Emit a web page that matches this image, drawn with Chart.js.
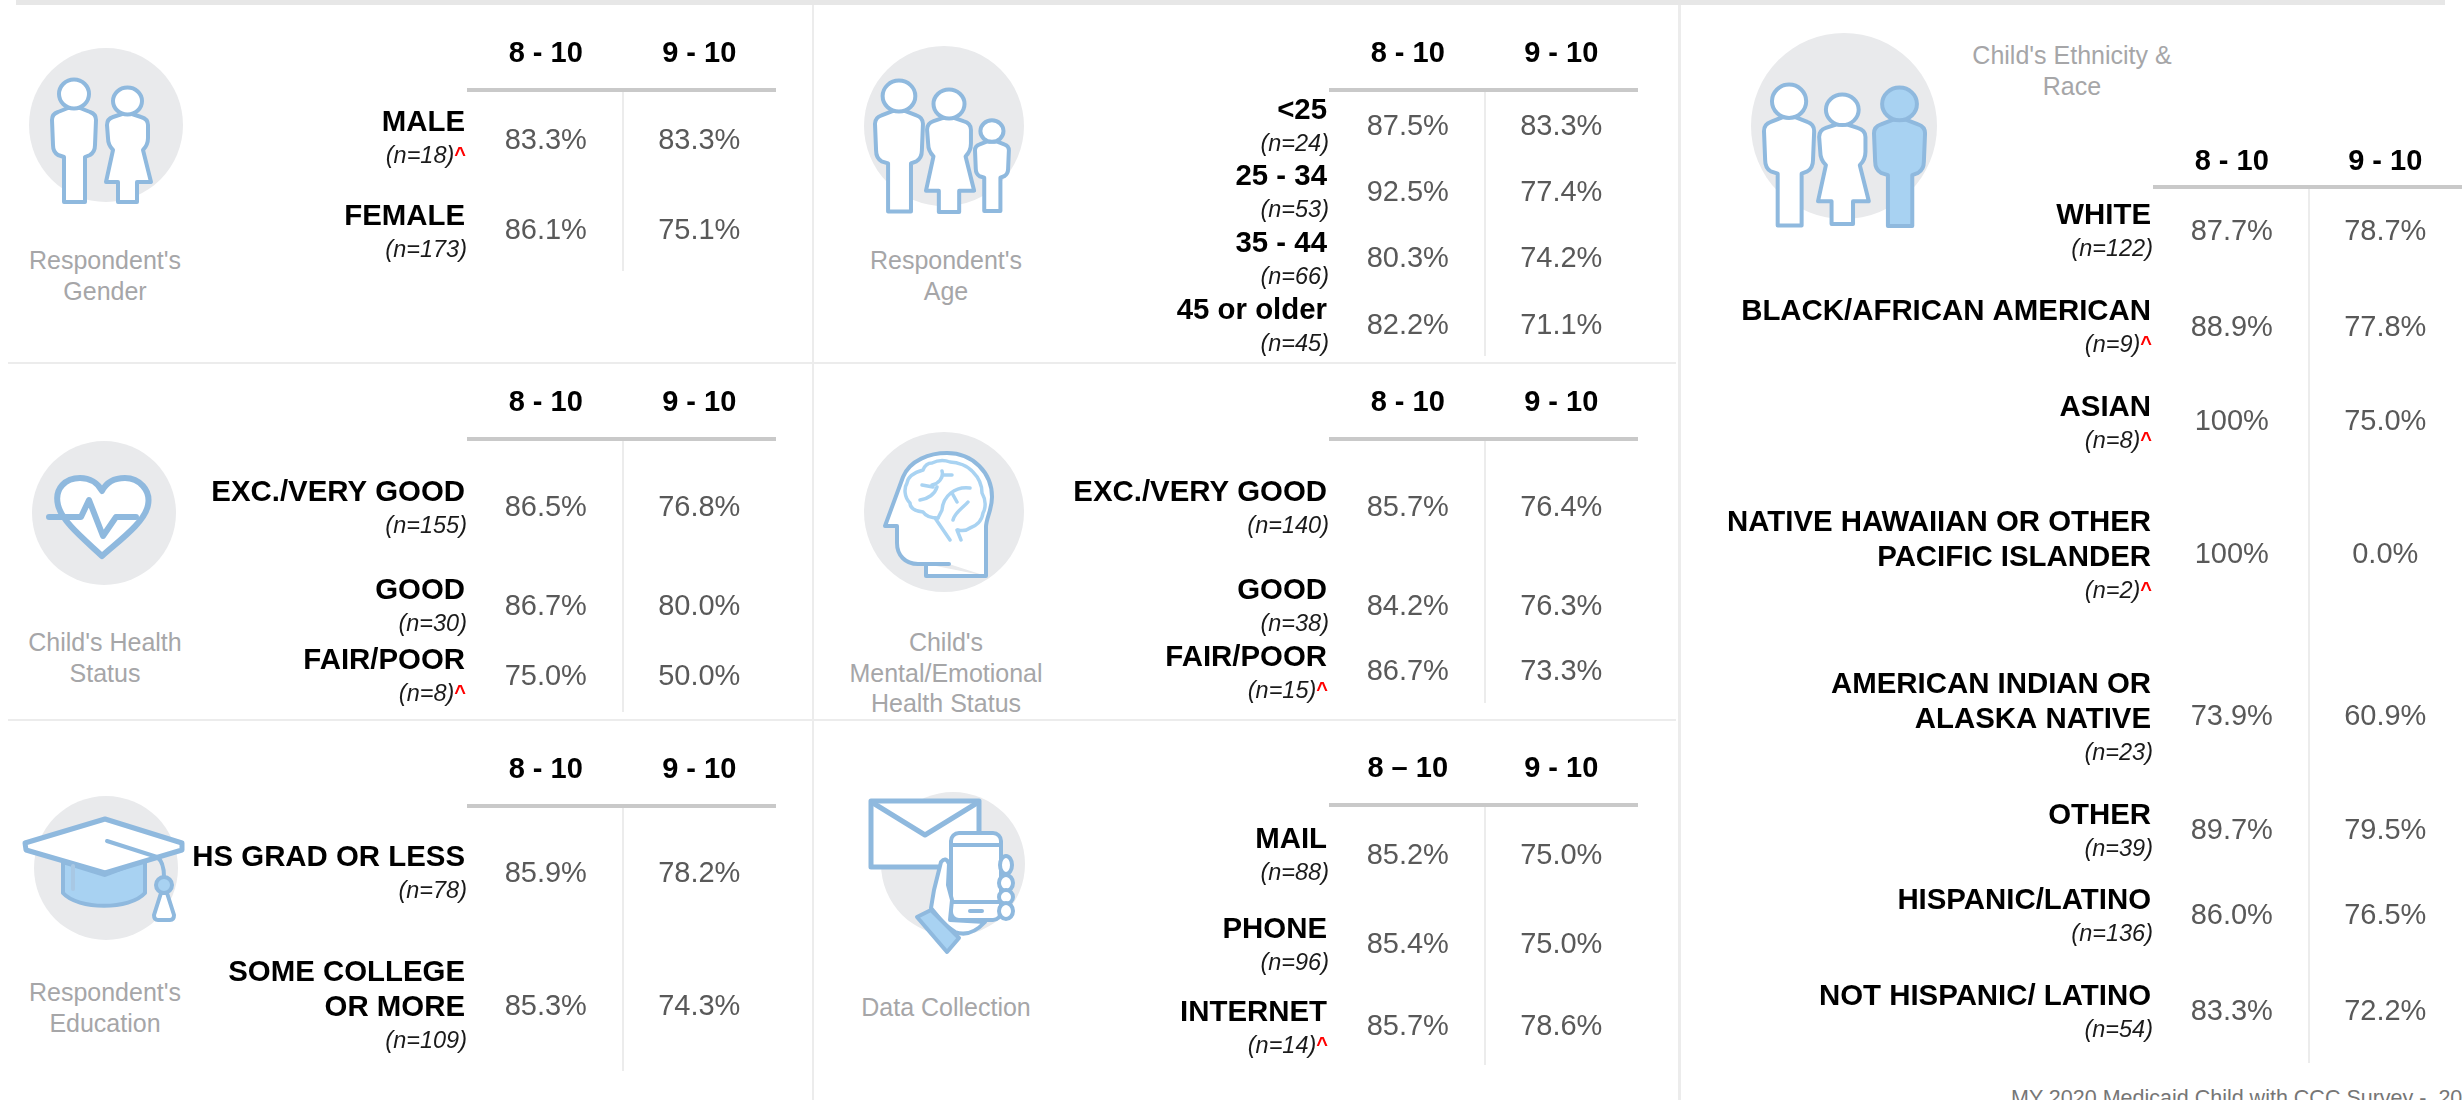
<!DOCTYPE html>
<html lang="en">

<head>
    <meta charset="UTF-8">
    <title>MY 2020 Medicaid Child with CCC Survey</title>
    <script src="https://cdn.jsdelivr.net/npm/chart.js"></script>
    <style>
        html, body { margin: 0; padding: 0; background: #fff; }
        #page { position: relative; width: 2464px; height: 1100px; overflow: hidden; font-family: "Liberation Sans", Arial, sans-serif; }
        #page canvas { position: absolute; }
        #icons { position: absolute; left: 0; top: 0; }
        .rule { position: absolute; background: #ececec; }
        .caption { position: absolute; width: 260px; margin-left: -130px; text-align: center; color: #a6a6a8; font-size: 25px; line-height: 30.5px; }
        #footer { position: absolute; left: 2011px; top: 1086px; color: #767676; font-size: 21.5px; white-space: pre; }
    </style>
</head>

<body>
    <div id="page">
        <!-- separators between the panels -->
        <div class="rule" style="left:16px;top:0;width:2429px;height:5px;background:#e7e7e7"></div>
        <div class="rule" style="left:812px;top:5px;width:2px;height:1095px"></div>
        <div class="rule" style="left:1678px;top:5px;width:3px;height:1095px"></div>
        <div class="rule" style="left:8px;top:362px;width:1668px;height:2px"></div>
        <div class="rule" style="left:8px;top:719px;width:1668px;height:2px"></div>

        <svg id="icons" width="2464" height="1100" fill="none" stroke="#8fb9de" stroke-width="4" stroke-linejoin="round" stroke-linecap="round">
            <defs>
                <g id="man">
                    <path vector-effect="non-scaling-stroke" fill="#fff" d="M12 123 V78 L6 76 Q1 73 1 66 L0 41 Q0 35 6 33 L16 29 H28 L38 33 Q44 35 44 41 L43 66 Q43 73 38 76 L33 78 V123 Z"/>
                    <ellipse vector-effect="non-scaling-stroke" fill="#fff" cx="22" cy="15" rx="15" ry="14.5"/>
                </g>
                <g id="manSolid">
                    <path vector-effect="non-scaling-stroke" fill="#a8d2f2" d="M12 123 V78 L6 76 Q1 73 1 66 L0 41 Q0 35 6 33 L16 29 H28 L38 33 Q44 35 44 41 L43 66 Q43 73 38 76 L33 78 V123 Z"/>
                    <ellipse vector-effect="non-scaling-stroke" fill="#a8d2f2" cx="22" cy="15" rx="15" ry="14.5"/>
                </g>
                <g id="woman">
                    <path vector-effect="non-scaling-stroke" fill="#fff" d="M12 115 V95 H0 L7 63 Q2 58 2 51 L1 38 Q1 32 7 30 L16 27 H26 L35 30 Q42 32 42 38 L42 51 Q42 58 37 63 L45 95 H31 V115 Z"/>
                    <ellipse vector-effect="non-scaling-stroke" fill="#fff" cx="21.5" cy="14" rx="14.5" ry="13.5"/>
                </g>
            </defs>

            <!-- gender -->
            <circle cx="106" cy="125" r="77" fill="#e9eaec" stroke="none"/>
            <use href="#man" transform="translate(52 79)"/>
            <use href="#woman" transform="translate(106 87)"/>

            <!-- age -->
            <circle cx="944" cy="126" r="80" fill="#e9eaec" stroke="none"/>
            <use href="#man" transform="translate(875 80) scale(1.09 1.07)"/>
            <use href="#woman" transform="translate(926 89) scale(1.07 1.07)"/>
            <use href="#man" transform="translate(975 120) scale(.77 .74)"/>

            <!-- ethnicity -->
            <circle cx="1844" cy="126" r="93" fill="#e9eaec" stroke="none"/>
            <use href="#man" transform="translate(1764 84) scale(1.14 1.15)"/>
            <use href="#woman" transform="translate(1818 94) scale(1.13 1.13)"/>
            <use href="#manSolid" transform="translate(1874 87) scale(1.16 1.13)"/>

            <!-- health -->
            <circle cx="104" cy="513" r="72" fill="#e9eaec" stroke="none"/>
            <path stroke-width="6" fill="#fff" d="M102 556 C85 540 62 522 58 505 C54 488 66 478 80 478 C90 478 98 483 102 491 C106 483 114 478 125 478 C139 478 151 490 148 505 C145 522 120 540 102 556 Z"/>
            <path stroke-width="6" d="M49 517 H81 L89 500 L103 536 L116 517 H136"/>

            <!-- mental health -->
            <circle cx="944" cy="512" r="80" fill="#e9eaec" stroke="none"/>
            <path fill="#fff" d="M986 576 H926 V564 M949 564 H918 C905 564 897 555 897 543 V526 H885 L903 477 C910 460 930 453 947 453 C973 453 992 473 992 497 C992 510 986 518 986 527 V576"/>
            <g stroke="#a9d3f2" stroke-width="3.5">
                <path d="M938 518 C930 518 925 515 923 512 C915 511 910 508 910 503 C904 497 904 488 907 483 C908 476 916 472 923 470 C925 465 929 463 932 463 C938 460 945 460 950 462 C958 462 968 466 973 472 C979 478 982 485 982 493 C986 500 986 508 983 513 C982 521 976 526 970 528 C966 531 962 531 958 530"/>
                <path d="M935 518 L950 540 M957 530 L961 540 M942 471 C944 478 938 484 932 485 M922 485 L933 487 M952 475 L943 475 M920 500 C928 499 935 494 937 487 M970 488 C955 486 943 496 942 510 L938 518 M957 502 L952 493 M968 502 C963 508 955 512 953 520"/>
            </g>

            <!-- education -->
            <circle cx="106" cy="868" r="72" fill="#e9eaec" stroke="none"/>
            <path fill="#a8d2f2" d="M63 862 V893 C78 910 130 910 145 893 V860 L105 875 Z"/>
            <path fill="#fff" stroke-width="5" d="M105 819 L182 843 V850 L105 873 L26 850 L25 843 Z"/>
            <path stroke-width="4" d="M107 841 L157 857 Q164 862 164 877"/>
            <path stroke="#a8c8e4" d="M73 866 V889"/>
            <ellipse cx="164" cy="885" rx="8" ry="8" fill="#a8d2f2"/>
            <path fill="#fff" d="M161 893 L154 915 Q154 920 158 920 H170 Q174 920 174 915 L167 893 Z"/>

            <!-- data collection -->
            <circle cx="953" cy="864" r="72" fill="#e9eaec" stroke="none"/>
            <path fill="#fff" stroke-width="5" d="M871 801 H979 V867 H871 Z"/>
            <path stroke-width="5" d="M873 803 L925 835 L977 803"/>
            <rect x="951" y="833" width="50" height="87" rx="8" fill="#fff" stroke-width="4"/>
            <path d="M951 845 H1001 M951 902 H1001" stroke-width="4"/>
            <path d="M970 911 H982"/>
            <ellipse cx="1006" cy="865" rx="6" ry="9" fill="#fff"/>
            <ellipse cx="1006" cy="883" rx="7" ry="8" fill="#fff"/>
            <ellipse cx="1006" cy="897" rx="7" ry="7" fill="#fff"/>
            <ellipse cx="1006" cy="911" rx="7" ry="8" fill="#fff"/>
            <path fill="#fff" d="M931 908 L934 890 L941 862 Q946 856 949 864 L948 885 L952 900 L950 920 L985 922 Q970 938 955 932 L945 925 Z"/>
            <path fill="#a8d2f2" d="M917 917 L931 910 L959 938 L947 952 Z"/>
        </svg>

        <div class="caption" style="left:105px;top:245px">Respondent's<br>Gender</div>
        <div class="caption" style="left:946px;top:245px">Respondent's<br>Age</div>
        <div class="caption" style="left:2072px;top:40px">Child's Ethnicity &amp;<br>Race</div>
        <div class="caption" style="left:105px;top:627px">Child's Health<br>Status</div>
        <div class="caption" style="left:946px;top:627px">Child's<br>Mental/Emotional<br>Health Status</div>
        <div class="caption" style="left:105px;top:977px">Respondent's<br>Education</div>
        <div class="caption" style="left:946px;top:992px">Data Collection</div>

        <div id="footer">MY 2020 Medicaid Child with CCC Survey -  20</div>
    </div>

    <script>
        // column headers
        const scoreColumns = ["8 - 10", "9 - 10"];
        const scoreColumnsDash = ["8 \u2013 10", "9 - 10"];

        // respondent's gender
        const genderRows = [["MALE"], ["FEMALE"]];
        const genderN = [18, 173];
        const gender810 = [83.3, 86.1];
        const gender910 = [83.3, 75.1];

        // respondent's age
        const ageRows = [["<25"], ["25 - 34"], ["35 - 44"], ["45 or older"]];
        const ageN = [24, 53, 66, 45];
        const age810 = [87.5, 92.5, 80.3, 82.2];
        const age910 = [83.3, 77.4, 74.2, 71.1];

        // child's health status
        const healthRows = [["EXC./VERY GOOD"], ["GOOD"], ["FAIR/POOR"]];
        const healthN = [155, 30, 8];
        const health810 = [86.5, 86.7, 75.0];
        const health910 = [76.8, 80.0, 50.0];

        // child's mental/emotional health status
        const mentalRows = [["EXC./VERY GOOD"], ["GOOD"], ["FAIR/POOR"]];
        const mentalN = [140, 38, 15];
        const mental810 = [85.7, 84.2, 86.7];
        const mental910 = [76.4, 76.3, 73.3];

        // respondent's education
        const educationRows = [["HS GRAD OR LESS"], ["SOME COLLEGE", "OR MORE"]];
        const educationN = [78, 109];
        const education810 = [85.9, 85.3];
        const education910 = [78.2, 74.3];

        // data collection
        const modeRows = [["MAIL"], ["PHONE"], ["INTERNET"]];
        const modeN = [88, 96, 14];
        const mode810 = [85.2, 85.4, 85.7];
        const mode910 = [75.0, 75.0, 78.6];

        // child's ethnicity & race
        const raceRows = [["WHITE"], ["BLACK/AFRICAN AMERICAN"], ["ASIAN"], ["NATIVE HAWAIIAN OR OTHER", "PACIFIC ISLANDER"],
            ["AMERICAN INDIAN OR", "ALASKA NATIVE"], ["OTHER"], ["HISPANIC/LATINO"], ["NOT HISPANIC/ LATINO"]];
        const raceN = [122, 9, 8, 2, 23, 39, 136, 54];
        const race810 = [87.7, 88.9, 100, 100, 73.9, 89.7, 86.0, 83.3];
        const race910 = [78.7, 77.8, 75.0, 0.0, 60.9, 79.5, 76.5, 72.2];

        // small bases get the red caret
        const lowBaseLimit = 20;

        const fontFamily = '"Liberation Sans", Arial, sans-serif';

        // where each table sits on the page, rowAt / labelAt are y axis values
        const layout = [
            { cols: scoreColumns, rows: genderRows, n: genderN, a: gender810, b: gender910,
              gutter: 130, left: 469, right: 776, top: 90, bottom: 271, headPad: 19,
              rowAt: [141, 231], labelAt: [123, 217] },
            { cols: scoreColumns, rows: ageRows, n: ageN, a: age810, b: age910,
              gutter: 1080, left: 1331, right: 1638, top: 90, bottom: 356, headPad: 19,
              rowAt: [127, 193, 259, 326], labelAt: [111, 177, 244, 311] },
            { cols: scoreColumns, rows: healthRows, n: healthN, a: health810, b: health910,
              gutter: 130, left: 469, right: 776, top: 439, bottom: 712, headPad: 19,
              rowAt: [508, 607, 677], labelAt: [493, 591, 661] },
            { cols: scoreColumns, rows: mentalRows, n: mentalN, a: mental810, b: mental910,
              gutter: 1040, left: 1331, right: 1638, top: 439, bottom: 703, headPad: 19,
              rowAt: [508, 607, 672], labelAt: [493, 591, 658] },
            { cols: scoreColumns, rows: educationRows, n: educationN, a: education810, b: education910,
              gutter: 130, left: 469, right: 776, top: 806, bottom: 1071, headPad: 19,
              rowAt: [874, 1007], labelAt: [858, 973] },
            { cols: scoreColumnsDash, rows: modeRows, n: modeN, a: mode810, b: mode910,
              gutter: 1080, left: 1331, right: 1638, top: 805, bottom: 1065, headPad: 19,
              rowAt: [856, 945, 1027], labelAt: [840, 930, 1013] },
            { cols: scoreColumns, rows: raceRows, n: raceN, a: race810, b: race910,
              gutter: 1700, left: 2155, right: 2462, top: 187, bottom: 1063, headPad: 8,
              rowAt: [232, 328, 422, 555, 717, 831, 916, 1012], labelAt: [216, 312, 408, 523, 685, 816, 901, 997] }
        ];

        const headerHeight = 80;
        const labelGap = 4;
        const lineStep = 35;
        const nStep = 33.5;

        function percentText(v) {
            return v === 100 ? "100%" : v.toFixed(1) + "%";
        }

        // row labels and percentages are table text, placed with the chart's own scales
        const tableText = {
            id: "tableText",
            afterDatasetsDraw(chart, args, opts) {
                const ctx = chart.ctx;
                const yScale = chart.scales.y;
                const labelRight = chart.chartArea.left - labelGap;
                ctx.save();
                ctx.textBaseline = "middle";

                ctx.textAlign = "center";
                ctx.font = "29px " + fontFamily;
                ctx.fillStyle = "#595959";
                chart.data.datasets.forEach((ds, d) => {
                    chart.getDatasetMeta(d).data.forEach((pt, i) => {
                        ctx.fillText(percentText(ds.data[i].v), pt.x, pt.y);
                    });
                });

                ctx.textAlign = "right";
                opts.rows.forEach((lines, i) => {
                    let y = yScale.getPixelForValue(opts.labelAt[i]);
                    ctx.font = "bold 29.4px " + fontFamily;
                    ctx.fillStyle = "#000";
                    lines.forEach((line, l) => {
                        ctx.fillText(line, labelRight, y + l * lineStep);
                    });
                    y += (lines.length - 1) * lineStep + nStep;

                    let nRight = labelRight + 2;
                    if (opts.n[i] < lowBaseLimit) {
                        ctx.font = "bold 20px " + fontFamily;
                        ctx.fillStyle = "#ff0000";
                        ctx.fillText("^", labelRight + 1, y - 1);
                        nRight = labelRight - ctx.measureText("^").width + 1;
                    }
                    ctx.font = "italic 23.5px " + fontFamily;
                    ctx.fillStyle = "#1a1a1a";
                    ctx.fillText("(n=" + opts.n[i] + ")", nRight, y);
                });
                ctx.restore();
            }
        };

        function buildTable(t) {
            const canvas = document.createElement("canvas");
            const x0 = t.gutter;
            const y0 = t.top - headerHeight;
            canvas.width = t.right - x0;
            canvas.height = t.bottom - y0;
            canvas.style.left = x0 + "px";
            canvas.style.top = y0 + "px";
            document.getElementById("page").appendChild(canvas);

            new Chart(canvas, {
                type: "scatter",
                data: {
                    datasets: [t.a, t.b].map((vals, c) => ({
                        label: t.cols[c],
                        data: vals.map((v, i) => ({ x: t.cols[c], y: t.rowAt[i], v: v })),
                        pointRadius: 0
                    }))
                },
                options: {
                    responsive: false,
                    animation: false,
                    layout: { padding: 0 },
                    plugins: {
                        legend: { display: false },
                        tooltip: { enabled: false },
                        tableText: { rows: t.rows, n: t.n, labelAt: t.labelAt }
                    },
                    scales: {
                        x: {
                            type: "category",
                            position: "top",
                            labels: t.cols,
                            offset: true,
                            border: { display: true, color: "#c9c9c9", width: 4 },
                            grid: {
                                offset: true,
                                drawTicks: false,
                                lineWidth: 2,
                                color: ctx => ctx.index === 1 ? "#ececec" : "rgba(0,0,0,0)"
                            },
                            ticks: {
                                color: "#000",
                                font: { family: fontFamily, size: 29, weight: "bold" },
                                padding: t.headPad,
                                maxRotation: 0,
                                autoSkip: false
                            },
                            afterFit: s => { s.height = headerHeight; }
                        },
                        y: {
                            type: "linear",
                            reverse: true,
                            min: t.top,
                            max: t.bottom,
                            border: { display: false },
                            grid: { display: false },
                            ticks: { display: false },
                            afterFit: s => { s.width = t.left - x0; }
                        }
                    }
                },
                plugins: [tableText]
            });
        }

        layout.forEach(buildTable);
    </script>
</body>

</html>
